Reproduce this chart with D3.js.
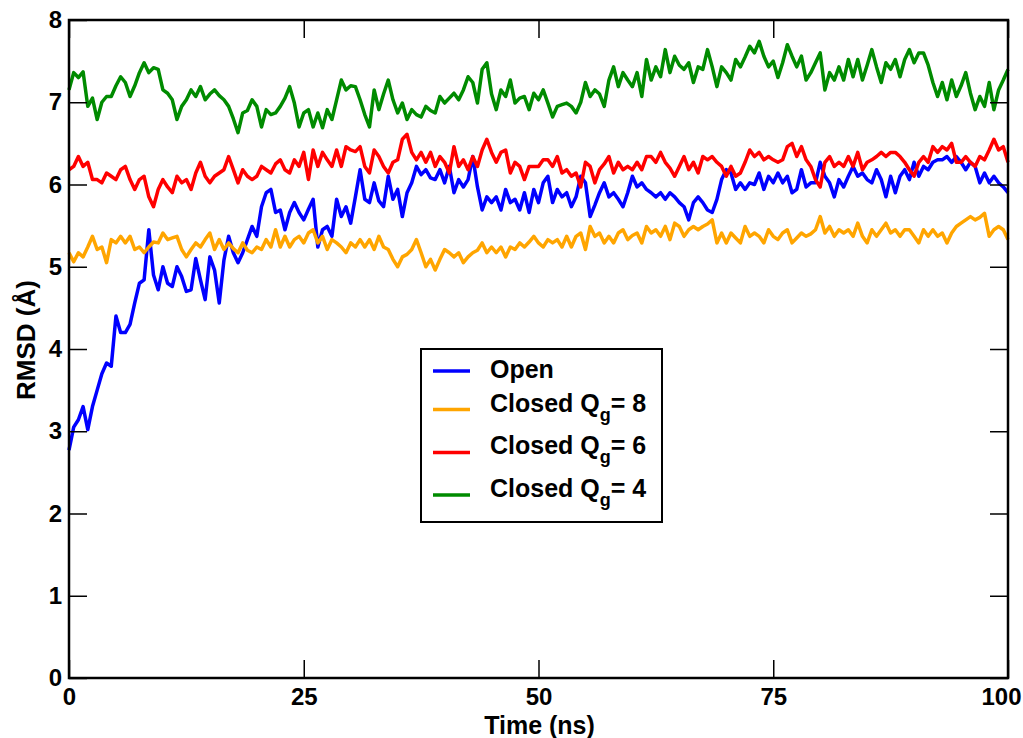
<!DOCTYPE html>
<html>
<head>
<meta charset="utf-8">
<script src="https://cdn.jsdelivr.net/npm/d3@7"></script>
<style>
  html, body { margin: 0; padding: 0; background: #fff; }
  svg { display: block; }
  text { font-family: "Liberation Sans", Arial, Helvetica, sans-serif; font-weight: bold; fill: #000; }
</style>
</head>
<body>
<svg id="chart" width="1023" height="738"></svg>
<script>
// ---------------- data (RMSD in Å, sampled every 0.5 ns from 0 to 100 ns) ----------------
const timeStep = 0.5;
const seriesNames = ["Open", "Closed Q_g = 8", "Closed Q_g = 6", "Closed Q_g = 4"];
const seriesColors = ["#0000ff", "#ffa500", "#ff0000", "#008b00"];
const xTicks = [0, 25, 50, 75, 100];
const yTicks = [0, 1, 2, 3, 4, 5, 6, 7, 8];

const openRMSD = [
2.77,3.05,3.14,3.30,3.02,3.30,3.50,3.70,3.83,3.79,4.40,4.20,4.20,4.30,4.56,4.80,4.84,5.45,4.90,4.72,
5.00,4.80,4.76,5.00,4.88,4.70,4.72,5.10,4.84,4.60,5.12,4.96,4.56,5.08,5.37,5.17,5.05,5.17,5.33,5.49,
5.37,5.73,5.90,5.94,5.66,5.69,5.45,5.66,5.78,5.66,5.57,5.70,5.82,5.24,5.45,5.49,5.37,5.82,5.61,5.73,
5.53,5.85,6.18,5.82,5.78,6.02,5.80,5.73,6.10,5.82,5.94,5.61,5.90,6.02,6.22,6.12,6.18,6.08,6.06,6.18,
6.02,6.22,5.90,6.06,5.97,6.06,6.34,5.97,5.69,5.85,5.78,5.85,5.69,5.94,5.78,5.82,5.69,5.90,5.66,5.94,
5.78,6.02,6.10,5.78,5.94,5.85,5.90,5.73,5.85,6.10,6.02,5.61,5.75,5.90,6.02,5.85,5.90,5.82,5.73,5.90,
6.10,5.97,6.02,5.94,5.90,5.85,5.90,5.82,5.90,5.85,5.78,5.73,5.57,5.78,5.85,5.78,5.69,5.66,5.82,6.06,
6.18,6.14,5.94,6.02,5.94,6.02,6.00,6.14,5.94,6.10,6.02,6.14,6.02,6.10,5.90,5.94,6.18,5.97,6.02,6.02,
6.27,6.10,6.02,5.85,6.06,5.97,6.10,6.22,6.10,6.14,6.06,6.02,6.18,6.06,5.85,6.10,5.90,6.10,6.18,6.06,
6.27,6.10,6.22,6.18,6.27,6.30,6.30,6.34,6.27,6.34,6.27,6.18,6.27,6.22,6.02,6.14,6.02,6.10,6.02,5.97,
5.90
];

const closedQ8RMSD = [
5.17,5.06,5.17,5.12,5.24,5.37,5.21,5.24,5.05,5.33,5.29,5.37,5.29,5.37,5.21,5.24,5.17,5.24,5.30,5.29,
5.41,5.33,5.35,5.37,5.21,5.12,5.21,5.29,5.24,5.33,5.41,5.21,5.33,5.21,5.29,5.22,5.17,5.29,5.20,5.17,
5.24,5.21,5.33,5.24,5.45,5.24,5.37,5.24,5.33,5.37,5.29,5.41,5.45,5.29,5.37,5.21,5.33,5.29,5.24,5.17,
5.29,5.24,5.33,5.24,5.33,5.21,5.37,5.24,5.21,5.09,5.00,5.12,5.15,5.21,5.33,5.17,5.00,5.09,4.96,5.09,
5.21,5.17,5.12,5.17,5.05,5.12,5.17,5.20,5.29,5.17,5.24,5.17,5.24,5.12,5.24,5.21,5.29,5.24,5.30,5.37,
5.29,5.24,5.33,5.29,5.33,5.24,5.37,5.24,5.37,5.41,5.21,5.49,5.37,5.41,5.29,5.37,5.29,5.41,5.45,5.33,
5.38,5.41,5.29,5.49,5.41,5.45,5.37,5.49,5.33,5.53,5.49,5.37,5.45,5.49,5.45,5.49,5.52,5.57,5.29,5.41,
5.29,5.41,5.35,5.29,5.49,5.37,5.41,5.37,5.29,5.45,5.37,5.33,5.41,5.45,5.29,5.35,5.41,5.37,5.40,5.45,
5.61,5.41,5.49,5.37,5.45,5.41,5.45,5.37,5.53,5.37,5.29,5.45,5.37,5.45,5.53,5.41,5.45,5.37,5.45,5.45,
5.37,5.29,5.45,5.37,5.45,5.37,5.41,5.29,5.41,5.49,5.53,5.57,5.61,5.57,5.60,5.65,5.37,5.45,5.49,5.45,
5.33
];

const closedQ6RMSD = [
6.18,6.22,6.34,6.22,6.27,6.06,6.06,6.02,6.14,6.10,6.06,6.18,6.22,6.06,5.94,6.06,6.10,5.85,5.73,5.94,
6.06,5.97,5.90,6.10,6.02,6.06,5.94,6.14,6.27,6.10,6.02,6.10,6.14,6.18,6.34,6.18,6.02,6.18,6.10,6.06,
6.10,6.22,6.18,6.14,6.25,6.30,6.18,6.14,6.30,6.22,6.39,6.06,6.42,6.22,6.39,6.30,6.22,6.42,6.22,6.46,
6.42,6.40,6.46,6.22,6.14,6.42,6.34,6.22,6.14,6.27,6.30,6.55,6.61,6.39,6.30,6.39,6.27,6.39,6.22,6.34,
6.27,6.14,6.46,6.22,6.30,6.18,6.34,6.22,6.42,6.55,6.39,6.27,6.39,6.42,6.14,6.27,6.22,6.06,6.22,6.22,
6.22,6.30,6.30,6.22,6.34,6.14,6.18,6.10,6.14,5.97,6.27,6.22,6.02,6.18,6.25,6.34,6.14,6.27,6.18,6.22,
6.18,6.27,6.18,6.34,6.34,6.27,6.39,6.27,6.20,6.10,6.22,6.34,6.18,6.27,6.14,6.34,6.30,6.34,6.27,6.22,
6.10,6.22,6.10,6.14,6.27,6.42,6.34,6.39,6.30,6.34,6.30,6.27,6.30,6.46,6.50,6.34,6.46,6.30,6.22,6.06,
5.97,6.27,6.34,6.22,6.27,6.22,6.34,6.22,6.39,6.18,6.27,6.30,6.34,6.39,6.34,6.39,6.39,6.34,6.27,6.18,
6.10,6.27,6.34,6.27,6.46,6.39,6.46,6.42,6.50,6.27,6.27,6.34,6.27,6.22,6.34,6.30,6.42,6.55,6.42,6.46,
6.27
];

const closedQ4RMSD = [
7.15,7.36,7.30,7.37,6.95,7.05,6.79,7.00,7.07,7.07,7.20,7.31,7.24,7.07,7.20,7.36,7.48,7.36,7.42,7.40,
7.15,7.11,7.03,6.79,6.95,7.03,7.15,7.07,7.19,7.03,7.10,7.15,7.08,7.03,6.95,6.80,6.63,6.87,6.90,7.03,
6.95,6.70,6.91,6.85,6.87,6.95,7.05,7.19,6.99,6.70,6.87,6.91,6.70,6.87,6.69,6.91,6.79,7.03,7.27,7.15,
7.20,7.19,7.03,6.85,6.70,7.15,6.91,7.10,7.27,7.03,6.87,6.99,6.79,6.91,6.85,6.82,6.95,6.90,6.87,7.07,
6.99,7.05,7.11,7.03,7.15,7.31,7.24,6.99,7.40,7.48,7.10,6.91,7.15,7.07,7.27,6.99,7.05,7.07,6.91,7.11,
7.03,7.15,6.99,6.82,6.95,6.97,6.99,6.95,6.87,7.00,7.24,7.07,7.15,7.10,6.95,7.27,7.43,7.19,7.36,7.27,
7.19,7.36,7.07,7.52,7.27,7.43,7.31,7.64,7.36,7.56,7.45,7.40,7.48,7.24,7.43,7.40,7.64,7.43,7.19,7.43,
7.36,7.27,7.52,7.43,7.55,7.68,7.60,7.74,7.56,7.43,7.50,7.30,7.48,7.70,7.56,7.43,7.56,7.27,7.36,7.48,
7.60,7.15,7.36,7.27,7.43,7.27,7.52,7.31,7.52,7.27,7.45,7.64,7.43,7.24,7.48,7.40,7.52,7.31,7.52,7.64,
7.48,7.60,7.60,7.45,7.24,7.07,7.24,7.03,7.27,7.07,7.20,7.36,7.11,6.91,7.07,6.95,7.24,6.91,7.15,7.27,
7.40
];

const seriesValues = [openRMSD, closedQ8RMSD, closedQ6RMSD, closedQ4RMSD];

// ---------------- layout ----------------
const svg = d3.select("#chart");
const plot = { left: 69, right: 1008, top: 20, bottom: 678 };

const x = d3.scaleLinear().domain([0, 100]).range([plot.left, plot.right]);
const y = d3.scaleLinear().domain([0, 8]).range([plot.bottom, plot.top]);

// data lines (drawn in legend order, later on top)
const line = d3.line()
  .x((d, i) => x(i * timeStep))
  .y(d => y(d));

const lines = svg.append("g");
seriesValues.forEach((vals, k) => {
  lines.append("path")
    .datum(vals)
    .attr("fill", "none")
    .attr("stroke", seriesColors[k])
    .attr("stroke-width", 3.5)
    .attr("stroke-linejoin", "round")
    .attr("d", line);
});

// axes with inward ticks on all four sides
const tickLen = 18;
function styleAxis(g) {
  g.select(".domain").remove();
  g.selectAll(".tick line").attr("stroke", "#000").attr("stroke-width", 1.5);
  g.selectAll(".tick text")
    .style("font-family", '"Liberation Sans", Arial, sans-serif')
    .style("font-weight", "bold")
    .style("font-size", "24px")
    .attr("fill", "#000");
}

svg.append("g")
  .attr("transform", `translate(0,${plot.bottom})`)
  .call(d3.axisBottom(x).tickValues(xTicks).tickSize(-tickLen).tickPadding(10).tickFormat(d3.format("d")))
  .call(styleAxis)
  .call(g => g.selectAll(".tick text").filter(d => d === 100).attr("dx", -7));

svg.append("g")
  .attr("transform", `translate(0,${plot.top})`)
  .call(d3.axisTop(x).tickValues(xTicks).tickSize(-tickLen).tickFormat(""))
  .call(styleAxis);

svg.append("g")
  .attr("transform", `translate(${plot.left},0)`)
  .call(d3.axisLeft(y).tickValues(yTicks).tickSize(-tickLen).tickPadding(7).tickFormat(d3.format("d")))
  .call(styleAxis);

svg.append("g")
  .attr("transform", `translate(${plot.right},0)`)
  .call(d3.axisRight(y).tickValues(yTicks).tickSize(-tickLen).tickFormat(""))
  .call(styleAxis);

// frame
svg.append("rect")
  .attr("x", plot.left).attr("y", plot.top)
  .attr("width", plot.right - plot.left).attr("height", plot.bottom - plot.top)
  .attr("fill", "none").attr("stroke", "#000").attr("stroke-width", 2.5);

// axis titles
svg.append("text")
  .attr("x", (plot.left + plot.right) / 2 + 1)
  .attr("y", 734)
  .attr("text-anchor", "middle")
  .style("font-size", "25px")
  .text("Time (ns)");

svg.append("text")
  .attr("transform", `translate(35,340) rotate(-90)`)
  .attr("text-anchor", "middle")
  .style("font-size", "26px")
  .text("RMSD (Å)");

// legend
const legend = svg.append("g");
legend.append("rect")
  .attr("x", 421).attr("y", 349).attr("width", 241).attr("height", 173)
  .attr("fill", "#fff").attr("stroke", "#000").attr("stroke-width", 2);

const legLineY = [371, 409.5, 452.5, 495];
const legTextY = [377.5, 411.5, 453.5, 496.5];
seriesNames.forEach((name, k) => {
  legend.append("line")
    .attr("x1", 433).attr("x2", 470)
    .attr("y1", legLineY[k]).attr("y2", legLineY[k])
    .attr("stroke", seriesColors[k]).attr("stroke-width", 3.5);
  const t = legend.append("text")
    .attr("x", 490).attr("y", legTextY[k])
    .style("font-size", "25px");
  const parts = name.split("_");
  if (parts.length === 1) {
    t.text(name);
  } else {
    const sub = parts[1].trim().split(" ");   // ["g", "=", "8"]
    t.append("tspan").text(parts[0]);
    t.append("tspan").attr("dy", 9).style("font-size", "18px").text(sub[0]);
    t.append("tspan").attr("dy", -9).text(sub.slice(1).join(" "));
  }
});
</script>
</body>
</html>
